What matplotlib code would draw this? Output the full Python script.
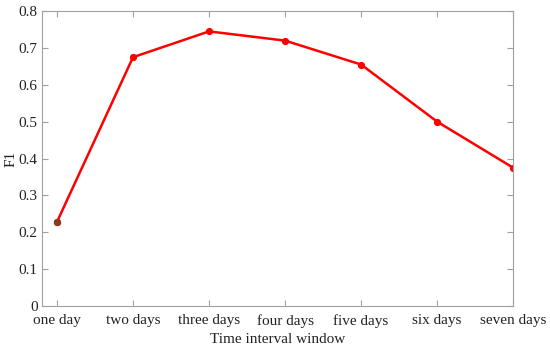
import matplotlib.pyplot as plt

# Data
categories = ['one day', 'two days', 'three days', 'four days', 'five days', 'six days', 'seven days']
f1_values = [0.228, 0.675, 0.745, 0.720, 0.655, 0.500, 0.375]
y_ticks = [0, 0.1, 0.2, 0.3, 0.4, 0.5, 0.6, 0.7, 0.8]

plt.rcParams['font.family'] = ['Liberation Serif', 'DejaVu Serif']

fig = plt.figure(figsize=(5.5, 3.48), dpi=100)
ax = fig.add_axes([0.076, 0.121, 0.857, 0.847])

x = list(range(1, len(categories) + 1))
ax.plot(x, f1_values, color='#ff0000', linewidth=1.8, marker='o', markersize=4.2)
# first point looks darker in the reference
ax.plot(x[0], f1_values[0], marker='o', markersize=4.2, color='#8b3a1a', linestyle='none')

ax.set_xlim(0.8, 7)
ax.set_ylim(0, 0.8)
ax.set_xticks(x)
ax.set_xticklabels(categories)
ax.set_yticks(y_ticks)
ax.set_yticklabels([f'{v:g}' for v in y_ticks])

ax.set_xlabel('Time interval window', fontsize=11, labelpad=3.5, color='#222222')
ax.set_ylabel('F1', fontsize=11, labelpad=1, color='#222222')

for s in ax.spines.values():
    s.set_color('#a0a0a0')
    s.set_linewidth(0.8)
ax.tick_params(direction='in', top=True, right=True, length=4, width=0.8,
               color='#a0a0a0', labelsize=11, labelcolor='#222222', pad=3)
ax.tick_params(axis='x', pad=6)

plt.savefig('out.png', dpi=100)
